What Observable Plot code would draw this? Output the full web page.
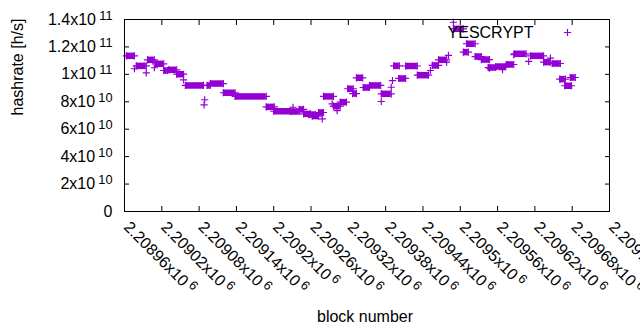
<!DOCTYPE html>
<html><head><meta charset="utf-8">
<script src="https://cdn.jsdelivr.net/npm/d3@7"></script>
<script src="https://cdn.jsdelivr.net/npm/@observablehq/plot@0.6"></script>
<style>
html,body{margin:0;padding:0;background:#fff;}
#chart svg{display:block;}
</style></head><body><div id="chart"></div>
<script>
// Runs of identical hashrate estimates (first block, last block, hashrate in h/s)
const blockStart = [2208963,2208976,2208979,2208995,2208997,2209008,2209010,2209023,2209031,2209044,2209055,2209058,2209089,2209088,2209093,2209098,2209119,2209138,2209188,2209200,2209231,2209227,2209241,2209248,2209256,2209262,2209272,2209278,2209280,2209294,2209296,2209302,2209307,2209319,2209327,2209333,2209344,2209354,2209373,2209373,2209389,2209391,2209393,2209401,2209412,2209431,2209452,2209455,2209465,2209478,2209481,2209489,2209489,2209505,2209510,2209524,2209534,2209547,2209545,2209557,2209568,2209574,2209586,2209587,2209610,2209613,2209634,2209645,2209648,2209660,2209668,2209677];
const blockEnd   = [2208976,2208976,2208995,2208995,2209008,2209008,2209023,2209029,2209044,2209055,2209055,2209087,2209089,2209088,2209098,2209119,2209138,2209188,2209201,2209227,2209231,2209241,2209248,2209259,2209267,2209272,2209280,2209278,2209296,2209294,2209307,2209302,2209317,2209328,2209333,2209343,2209354,2209372,2209373,2209389,2209389,2209391,2209402,2209412,2209431,2209449,2209452,2209465,2209478,2209478,2209481,2209489,2209505,2209513,2209524,2209534,2209547,2209547,2209557,2209573,2209568,2209586,2209586,2209606,2209610,2209634,2209645,2209645,2209661,2209669,2209679,2209685];
const hashrate   = [113.5e9,104.1e9,106.2e9,101.1e9,110.6e9,104.8e9,107.7e9,102.8e9,103.3e9,100.1e9,96.0e9,91.9e9,81.5e9,77.8e9,91.9e9,93.3e9,86.6e9,83.9e9,76.3e9,73.1e9,76.0e9,72.9e9,74.4e9,71.2e9,70.7e9,69.6e9,72.2e9,67.6e9,83.9e9,78.5e9,76.8e9,73.6e9,79.7e9,89.5e9,86.0e9,97.5e9,90.4e9,91.9e9,80.2e9,85.8e9,90.6e9,95.5e9,106.2e9,97.0e9,106.1e9,99.4e9,102.8e9,106.5e9,110.6e9,108.9e9,113.8e9,138.0e9,133.2e9,116.2e9,122.3e9,113.0e9,110.8e9,104.5e9,105.0e9,105.7e9,103.5e9,107.2e9,114.3e9,115.0e9,109.4e9,113.5e9,108.9e9,111.8e9,107.9e9,96.5e9,91.7e9,97.7e9];
const xTicks = [2208960,2209020,2209080,2209140,2209200,2209260,2209320,2209380,2209440,2209500,2209560,2209620,2209680,2209740];
const yTicks = [0,2e10,4e10,6e10,8e10,1e11,1.2e11,1.4e11];
const seriesName = "YESCRYPT";
const xTitle = "block number";
const yTitle = "hashrate [h/s]";

const purple = "#9400d3";
const runs = blockStart.map((s, i) => ({s, e: blockEnd[i], v: hashrate[i]}));
const ends = runs.flatMap(d => d.s === d.e ? [{b: d.s, v: d.v}] : [{b: d.s, v: d.v}, {b: d.e, v: d.v}]);

function sci(v) {
  if (v === 0) return "0";
  const e = Math.floor(Math.log10(v) + 1e-9);
  const m = +(v / Math.pow(10, e)).toFixed(6);
  return `${m}x10^${e}`;
}
const blank = () => "";

const chart = Plot.plot({
  width: 640, height: 330,
  marginLeft: 124, marginRight: 31, marginTop: 19, marginBottom: 119,
  style: {fontFamily: "'Liberation Sans', Arial, sans-serif", fontSize: "16px", color: "black", background: "white"},
  x: {domain: [2208960, 2209740], label: null},
  y: {domain: [0, 1.4e11], label: null},
  marks: [
    Plot.ruleY(runs, {x1: "s", x2: "e", y: "v", stroke: purple, strokeWidth: 6.5}),
    Plot.dot(ends, {x: "b", y: "v", symbol: "plus", r: 2.45, stroke: purple, strokeWidth: 1.2}),
    Plot.frame({stroke: "black", strokeWidth: 1}),
    Plot.axisY({ticks: yTicks, anchor: "left", tickSize: -5, tickFormat: blank}),
    Plot.axisY({ticks: yTicks, anchor: "right", tickSize: -5, tickFormat: blank}),
    Plot.axisX({ticks: xTicks, anchor: "bottom", tickSize: -5, tickFormat: blank}),
    Plot.axisX({ticks: xTicks, anchor: "top", tickSize: -5, tickFormat: blank}),
    Plot.axisY({ticks: yTicks, anchor: "left", tickSize: 0, tickPadding: 12, tickFormat: sci, fontSize: 16}),
    Plot.axisX({ticks: xTicks, anchor: "bottom", tickSize: 0, tickPadding: 13, tickRotate: 45, textAnchor: "start", tickFormat: sci, fontSize: 16, dx: 2}),
    Plot.text([yTitle], {frameAnchor: "left", dx: -107, rotate: -90, fontSize: 16, lineAnchor: "middle"}),
    Plot.text([xTitle], {frameAnchor: "bottom", dx: -2, dy: 105, fontSize: 16, lineAnchor: "middle"}),
    Plot.text([seriesName], {frameAnchor: "top-right", dx: -76, dy: 13, textAnchor: "end", fontSize: 16, lineAnchor: "middle"}),
    Plot.dot([seriesName], {frameAnchor: "top-right", dx: -42, dy: 13, symbol: "plus", r: 2.45, stroke: purple, strokeWidth: 1.2})
  ]
});

d3.select(chart).selectAll("text").each(function() {
  const t = this.textContent;
  if (!t.includes("^")) return;
  const [m, e] = t.split("^");
  const sel = d3.select(this);
  sel.text(null);
  sel.append("tspan").text(m);
  sel.append("tspan").attr("dx", "0.25em").attr("dy", "-0.4em").attr("font-size", "0.8em").text(e);
});
document.getElementById("chart").appendChild(chart);
</script>
</body></html>
